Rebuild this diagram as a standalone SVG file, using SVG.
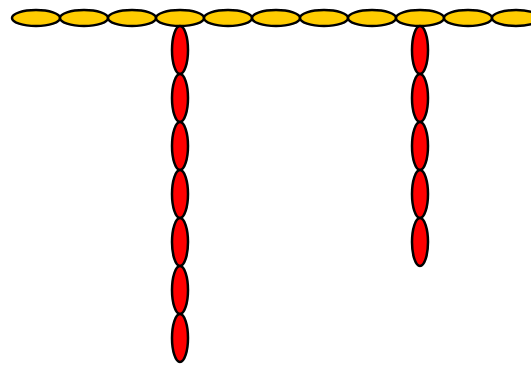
<svg xmlns="http://www.w3.org/2000/svg" width="531" height="365" viewBox="0 0 531 365">
<style>
.y{fill:#ffcc00;stroke:#000;stroke-width:2.5}
.r{fill:#ff0000;stroke:#000;stroke-width:2.5}
</style>
<rect width="531" height="365" fill="#fff"/>
<g id="connectors"></g>
<g id="h1"><ellipse class="y" cx="36" cy="18" rx="24" ry="8"/></g>
<g id="h2"><ellipse class="y" cx="84" cy="18" rx="24" ry="8"/></g>
<g id="h3"><ellipse class="y" cx="132" cy="18" rx="24" ry="8"/></g>
<g id="h4"><ellipse class="y" cx="180" cy="18" rx="24" ry="8"/></g>
<g id="h5"><ellipse class="y" cx="228" cy="18" rx="24" ry="8"/></g>
<g id="h6"><ellipse class="y" cx="276" cy="18" rx="24" ry="8"/></g>
<g id="h7"><ellipse class="y" cx="324" cy="18" rx="24" ry="8"/></g>
<g id="h8"><ellipse class="y" cx="372" cy="18" rx="24" ry="8"/></g>
<g id="h9"><ellipse class="y" cx="420" cy="18" rx="24" ry="8"/></g>
<g id="h10"><ellipse class="y" cx="468" cy="18" rx="24" ry="8"/></g>
<g id="h11"><ellipse class="y" cx="516" cy="18" rx="24" ry="8"/></g>
<g id="a1"><ellipse class="r" cx="180" cy="50" rx="8" ry="24"/></g>
<g id="a2"><ellipse class="r" cx="180" cy="98" rx="8" ry="24"/></g>
<g id="a3"><ellipse class="r" cx="180" cy="146" rx="8" ry="24"/></g>
<g id="a4"><ellipse class="r" cx="180" cy="194" rx="8" ry="24"/></g>
<g id="a5"><ellipse class="r" cx="180" cy="242" rx="8" ry="24"/></g>
<g id="a6"><ellipse class="r" cx="180" cy="290" rx="8" ry="24"/></g>
<g id="a7"><ellipse class="r" cx="180" cy="338" rx="8" ry="24"/></g>
<g id="b1"><ellipse class="r" cx="420" cy="50" rx="8" ry="24"/></g>
<g id="b2"><ellipse class="r" cx="420" cy="98" rx="8" ry="24"/></g>
<g id="b3"><ellipse class="r" cx="420" cy="146" rx="8" ry="24"/></g>
<g id="b4"><ellipse class="r" cx="420" cy="194" rx="8" ry="24"/></g>
<g id="b5"><ellipse class="r" cx="420" cy="242" rx="8" ry="24"/></g>
</svg>
